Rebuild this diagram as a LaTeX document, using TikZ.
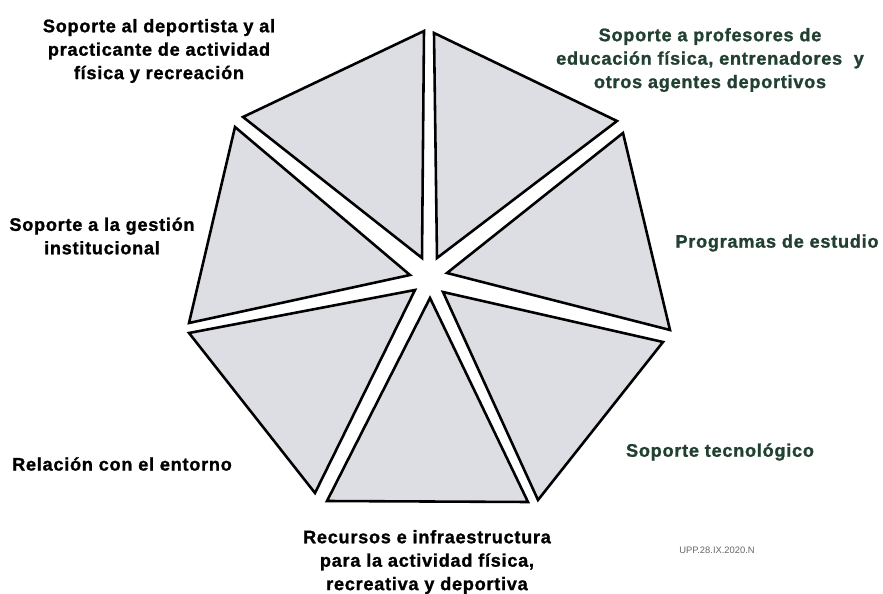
\documentclass[tikz,border=0pt]{standalone}
\usepackage{fontspec}
\setmainfont{Liberation Sans}
\newfontfamily\heavyfont[FakeBold=1.2,LetterSpace=4]{Liberation Sans Bold}
\usepackage{tikz}

\definecolor{sectorgray}{RGB}{221,221,228}
\definecolor{labelgreen}{RGB}{34,64,50}

\begin{document}
\begin{tikzpicture}[x=0.03cm,y=-0.03cm,
  sector/.style={fill=sectorgray,draw=black,line width=2.2pt,line join=miter},
  label/.style={align=center,font=\heavyfont\fontsize{15.5}{20}\selectfont,inner sep=0pt},
  greenlabel/.style={label,text=labelgreen}]

  \useasboundingbox (0,0) rectangle (883,594);

  \coordinate (ul-c) at (422,258);
  \coordinate (ul-a) at (424,31);
  \coordinate (ul-b) at (243,117);
  \coordinate (ur-c) at (437,258);
  \coordinate (ur-a) at (434,33);
  \coordinate (ur-b) at (617,121);
  \coordinate (r-c) at (447,273);
  \coordinate (r-a) at (623,133);
  \coordinate (r-b) at (670,330);
  \coordinate (lr-c) at (443,292);
  \coordinate (lr-a) at (663,342);
  \coordinate (lr-b) at (538,500);
  \coordinate (b-c) at (430,298);
  \coordinate (b-a) at (528,502);
  \coordinate (b-b) at (327,501);
  \coordinate (ll-c) at (415,290);
  \coordinate (ll-a) at (315,493);
  \coordinate (ll-b) at (189,333);
  \coordinate (l-c) at (410,275);
  \coordinate (l-a) at (189,323);
  \coordinate (l-b) at (235,127);

  \path[sector] (ul-c) -- (ul-a) -- (ul-b) -- cycle;
  \path[sector] (ur-c) -- (ur-a) -- (ur-b) -- cycle;
  \path[sector] (r-c) -- (r-a) -- (r-b) -- cycle;
  \path[sector] (lr-c) -- (lr-a) -- (lr-b) -- cycle;
  \path[sector] (b-c) -- (b-a) -- (b-b) -- cycle;
  \path[sector] (ll-c) -- (ll-a) -- (ll-b) -- cycle;
  \path[sector] (l-c) -- (l-a) -- (l-b) -- cycle;

  \node[label] (deportista) at (159,51)
    {Soporte al deportista y al\\practicante de actividad\\física y recreación};
  \node[greenlabel] (profesores) at (710,60)
    {Soporte a profesores de\\educación física, entrenadores \ y\\otros agentes deportivos};
  \node[greenlabel] (programas) at (777,243) {Programas de estudio};
  \node[greenlabel] (tecnologico) at (720,452) {Soporte tecnológico};
  \node[label] (recursos) at (427,562)
    {Recursos e infraestructura\\para la actividad física,\\recreativa y deportiva};
  \node[label] (entorno) at (122,464) {Relación con el entorno};
  \node[label] (gestion) at (102,236) {Soporte a la gestión\\institucional};
  \node[font=\fontsize{8}{9}\selectfont,text=black!60,inner sep=0pt] (firma) at (717,550)
    {UPP.28.IX.2020.N};
\end{tikzpicture}
\end{document}
